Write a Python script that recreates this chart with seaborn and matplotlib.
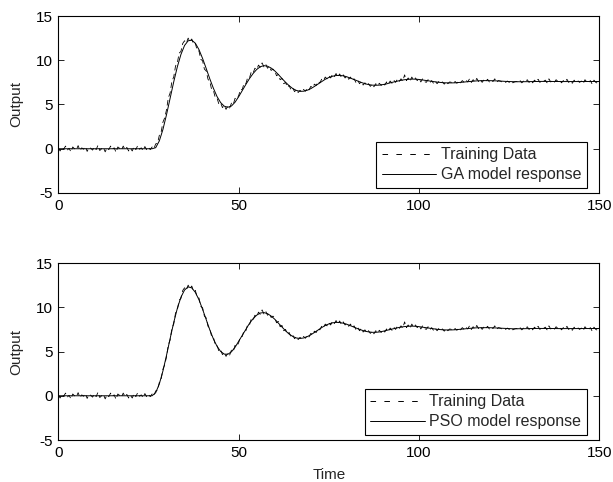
import numpy as np
import pandas as pd
import matplotlib
matplotlib.use("Agg")
import matplotlib.pyplot as plt
from matplotlib.lines import Line2D
import seaborn as sns

# ---------------- data ----------------
x_ticks = [0, 50, 100, 150]
y_ticks = [-5, 0, 5, 10, 15]
legend_labels_top = ["Training Data", "GA model response"]
legend_labels_bot = ["Training Data", "PSO model response"]

# training data sampled every 0.5 time units (t = 0 ... 150)
training_data = [
    0.1, -0.25, 0.15, -0.05, 0.3, -0.15, 0.05, -0.35, 0.2, 0.0,
    -0.1, 0.35, -0.2, 0.1, -0.05, 0.25, -0.3, 0.15, 0.05, -0.15,
    0.2, -0.1, 0.4, -0.2, 0.0, 0.15, -0.35, 0.1, -0.1, 0.3,
    -0.05, 0.1, -0.4, 0.2, 0.05, -0.15, 0.3, -0.1, 0.15, -0.25,
    0.05, -0.25, 0.25, -0.1, 0.35, -0.05, 0.1, -0.2, 0.25, -0.1,
    0.15, -0.1, 0.2, 0.0, 0.55, 0.6, 1.5, 1.85, 3.0, 3.5,
    4.4, 5.75, 6.3, 7.65, 8.1, 9.35, 9.7, 10.8, 11.0, 11.9,
    12.2, 11.95, 12.5, 12.1, 12.4, 11.8, 11.9, 11.1, 11.05, 10.1,
    9.95, 9.0, 8.8, 7.85, 7.6, 6.7, 6.6, 5.8, 5.75, 5.05,
    5.2, 4.65, 4.9, 4.45, 4.85, 4.6, 5.15, 5.0, 5.7, 5.6,
    6.0, 6.7, 6.7, 7.4, 7.35, 8.05, 8.0, 8.7, 8.55, 9.1,
    8.95, 9.45, 9.2, 9.7, 9.25, 9.55, 9.1, 9.3, 8.85, 9.0,
    8.8, 8.25, 8.4, 7.8, 7.95, 7.35, 7.5, 6.95, 7.15, 6.65,
    6.85, 6.45, 6.7, 6.35, 6.6, 6.4, 6.7, 6.5, 6.85, 6.65,
    7.05, 6.9, 7.3, 7.15, 7.6, 7.45, 7.85, 7.7, 8.1, 7.9,
    8.25, 8.0, 8.4, 8.15, 8.5, 8.1, 8.45, 8.05, 8.35, 8.0,
    8.2, 7.85, 8.1, 7.7, 7.9, 7.5, 7.75, 7.35, 7.6, 7.2,
    7.45, 7.15, 7.35, 7.05, 7.3, 7.0, 7.35, 7.1, 7.4, 7.15,
    7.45, 7.2, 7.55, 7.3, 7.65, 7.4, 7.75, 7.5, 7.85, 7.6,
    7.9, 7.65, 8.35, 7.7, 8.0, 7.6, 8.1, 7.75, 8.0, 7.7,
    7.95, 7.55, 7.9, 7.6, 7.5, 7.8, 7.45, 7.7, 7.4, 7.65,
    7.35, 7.6, 7.4, 7.55, 7.3, 7.6, 7.35, 7.55, 7.5, 7.35,
    7.6, 7.4, 7.65, 7.45, 7.7, 7.5, 7.75, 7.55, 7.9, 7.5,
    7.8, 7.55, 7.95, 7.6, 7.85, 7.5, 7.8, 7.6, 7.85, 7.55,
    7.75, 7.6, 7.9, 7.5, 7.7, 7.65, 7.55, 7.6, 7.5, 7.65,
    7.5, 7.65, 7.45, 7.55, 7.6, 7.5, 7.7, 7.45, 7.65, 7.55,
    7.8, 7.5, 7.7, 7.45, 7.75, 7.55, 7.85, 7.5, 7.7, 7.6,
    7.75, 7.45, 7.9, 7.55, 7.7, 7.5, 7.8, 7.6, 7.75, 7.45,
    7.7, 7.55, 7.85, 7.5, 7.65, 7.4, 7.75, 7.6, 7.7, 7.5,
    7.65, 7.35, 7.8, 7.55, 7.45, 7.7, 7.3, 7.75, 7.5, 7.4,
    7.7,
]

# model responses sampled every 1 time unit (t = 0 ... 150)
ga_model = [0.0] * 27 + [
    0.12, 0.88, 2.17, 3.85, 5.70, 7.56, 9.26, 10.66, 11.67, 12.20,
    12.27, 11.92, 11.20, 10.20, 9.07, 7.90, 6.83, 5.90, 5.22, 4.81,
    4.69, 4.83, 5.26, 5.88, 6.58, 7.27, 7.93, 8.50, 8.96, 9.27,
    9.39, 9.33, 9.12, 8.80, 8.39, 7.94, 7.51, 7.12, 6.80, 6.59,
    6.49, 6.50, 6.61, 6.79, 7.04, 7.31, 7.59, 7.85, 8.05, 8.19,
    8.27, 8.29, 8.24, 8.13, 7.98, 7.82, 7.65, 7.49, 7.35, 7.25,
    7.19, 7.17, 7.19, 7.25, 7.33, 7.45, 7.55, 7.64, 7.73, 7.80,
    7.85, 7.87, 7.86, 7.83, 7.77, 7.71, 7.65, 7.58, 7.53, 7.49,
    7.45, 7.44, 7.44, 7.45, 7.48, 7.52, 7.56, 7.60, 7.63, 7.67,
    7.69, 7.70, 7.70, 7.69, 7.68, 7.66, 7.63, 7.61, 7.59,
    7.58, 7.57, 7.57, 7.57, 7.58, 7.59, 7.60, 7.61, 7.61, 7.61,
    7.61, 7.60, 7.60, 7.59, 7.59, 7.59, 7.60, 7.60, 7.60, 7.60,
    7.60, 7.60, 7.60, 7.60, 7.60,
]

pso_model = [0.0] * 27 + [
    0.35, 1.33, 2.79, 4.57, 6.46, 8.28, 9.88, 11.14, 11.95, 12.30,
    12.19, 11.68, 10.84, 9.77, 8.60, 7.45, 6.42, 5.59, 5.01, 4.71,
    4.69, 4.97, 5.48, 6.16, 6.86, 7.54, 8.18, 8.71, 9.11, 9.35,
    9.40, 9.28, 9.01, 8.65, 8.21, 7.76, 7.34, 6.97, 6.70, 6.53,
    6.48, 6.53, 6.68, 6.89, 7.15, 7.43, 7.70, 7.94, 8.12, 8.24,
    8.29, 8.28, 8.20, 8.08, 7.92, 7.75, 7.58, 7.43, 7.30, 7.22,
    7.17, 7.17, 7.21, 7.29, 7.39, 7.49, 7.59, 7.68, 7.76, 7.82,
    7.86, 7.87, 7.85, 7.81, 7.75, 7.69, 7.62, 7.56, 7.51, 7.47,
    7.44, 7.44, 7.44, 7.46, 7.50, 7.53, 7.58, 7.61, 7.65, 7.68,
    7.69, 7.70, 7.70, 7.69, 7.67, 7.65, 7.62, 7.60,
    7.58, 7.57, 7.57, 7.57, 7.58, 7.59, 7.60, 7.61, 7.61, 7.61,
    7.61, 7.60, 7.60, 7.59, 7.59, 7.59, 7.60, 7.60, 7.60, 7.60,
    7.60, 7.60, 7.60, 7.60, 7.60, 7.60,
]

assert len(training_data) == 301, len(training_data)
assert len(ga_model) == 151, len(ga_model)
assert len(pso_model) == 151, len(pso_model)

t_train = np.linspace(0, 150, len(training_data))
t_model = np.linspace(0, 150, len(ga_model))

df_train = pd.DataFrame({"Time": t_train, "Output": training_data})
df_ga = pd.DataFrame({"Time": t_model, "Output": ga_model})
df_pso = pd.DataFrame({"Time": t_model, "Output": pso_model})

# ---------------- style ----------------
sns.set_theme(style="ticks")
plt.rcParams["font.family"] = ["Liberation Sans", "DejaVu Sans"]
plt.rcParams["lines.scale_dashes"] = False
plt.rcParams["font.size"] = 11

fig = plt.figure(figsize=(6.13, 4.82), dpi=100)
ax_top = fig.add_axes([0.0951, 0.5996, 0.8827, 0.3672])
ax_bot = fig.add_axes([0.0951, 0.0871, 0.8827, 0.3672])


def draw(ax, model_df, labels):
    sns.lineplot(data=df_train, x="Time", y="Output", ax=ax, color="black",
                 linewidth=0.6, estimator=None, legend=False)
    ax.lines[-1].set_dashes((4, 2.5))
    sns.lineplot(data=model_df, x="Time", y="Output", ax=ax, color="black",
                 linewidth=0.7, estimator=None, legend=False)
    ax.set_xlim(0, 150)
    ax.set_ylim(-5, 15)
    ax.set_xticks(x_ticks)
    ax.set_yticks(y_ticks)
    ax.set_xticklabels([str(v) for v in x_ticks])
    ax.set_yticklabels([str(v) for v in y_ticks])
    ax.tick_params(direction="in", length=4, width=0.6, top=True, right=True,
                   labelsize=11, colors="black", pad=4)
    for s in ax.spines.values():
        s.set_visible(True)
        s.set_linewidth(0.8)
        s.set_color("black")
    ax.set_ylabel("Output", fontsize=11, labelpad=9)
    ax.set_xlabel("")
    handles = [
        Line2D([], [], color="black", linewidth=0.7, dashes=(4, 6)),
        Line2D([], [], color="black", linewidth=0.7),
    ]
    leg = ax.legend(handles, labels, loc="lower right",
                    bbox_to_anchor=(0.977, 0.03),
                    borderaxespad=0, frameon=True, fancybox=False,
                    edgecolor="black", framealpha=1, fontsize=11.5,
                    handlelength=3.4, handletextpad=0.3, labelspacing=0.3,
                    borderpad=0.35)
    leg.get_frame().set_linewidth(0.8)


draw(ax_top, df_ga, legend_labels_top)
draw(ax_bot, df_pso, legend_labels_bot)
ax_bot.set_xlabel("Time", fontsize=11, labelpad=6)

fig.savefig("out.png", dpi=100)
